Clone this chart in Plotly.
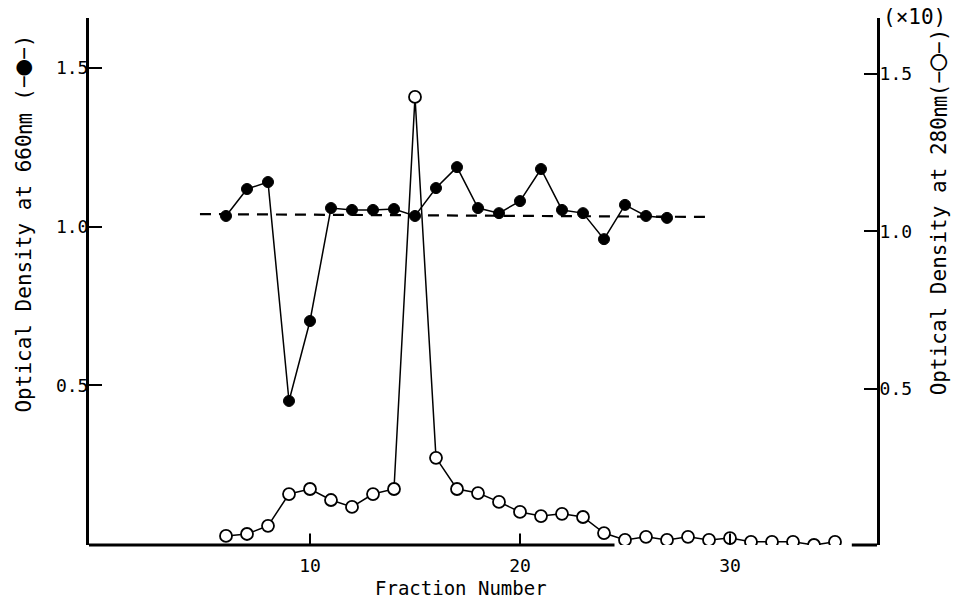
import plotly.graph_objects as go

# Optical density at 660 nm (filled circles, left axis)
frac_660 = list(range(6, 28))
od_660 = [1.034, 1.119, 1.141, 0.451, 0.703, 1.059, 1.053, 1.053, 1.056, 1.034,
          1.122, 1.188, 1.059, 1.043, 1.081, 1.182, 1.053, 1.043, 0.961, 1.069,
          1.034, 1.028]

# Optical density at 280 nm (open circles, right axis, x10)
frac_280 = list(range(6, 36))
od_280 = [0.032, 0.038, 0.064, 0.165, 0.181, 0.146, 0.124, 0.165, 0.181, 1.427,
          0.280, 0.181, 0.168, 0.140, 0.108, 0.095, 0.102, 0.092, 0.041, 0.019,
          0.029, 0.019, 0.029, 0.019, 0.025, 0.013, 0.013, 0.013, 0.003, 0.013]

# Dashed reference level
ref_x = [4.76, 28.95]
ref_y = [1.040, 1.031]

x_ticks = [10, 20, 30]
y_ticks = [0.5, 1.0, 1.5]
y_ticklabels = ["0.5", "1.0", "1.5"]

FONT = "DejaVu Sans Mono, Liberation Mono, Noto Sans CJK JP, monospace"

fig = go.Figure()

fig.add_trace(go.Scatter(
    x=ref_x, y=ref_y, mode="lines",
    line=dict(color="black", width=2.2, dash="11px,8px"),
    yaxis="y", hoverinfo="skip", showlegend=False))

fig.add_trace(go.Scatter(
    x=frac_280, y=od_280, mode="lines+markers", yaxis="y2",
    line=dict(color="black", width=1.5),
    marker=dict(symbol="circle", size=12, color="white",
                line=dict(color="black", width=1.8)),
    showlegend=False))

fig.add_trace(go.Scatter(
    x=frac_660, y=od_660, mode="lines+markers", yaxis="y",
    line=dict(color="black", width=1.5),
    marker=dict(symbol="circle", size=11, color="black",
                line=dict(color="black", width=1)),
    showlegend=False))

x_lo, x_hi = -0.524, 37.0

shapes = [
    dict(type="line", xref="x", yref="paper", x0=x_lo, x1=24.5, y0=0, y1=0,
         line=dict(color="black", width=3)),
    dict(type="line", xref="x", yref="paper", x0=35.8, x1=x_hi, y0=0, y1=0,
         line=dict(color="black", width=3)),
]
for t in x_ticks:
    shapes.append(dict(type="line", xref="x", yref="paper", x0=t, x1=t,
                       y0=0, y1=0.022, line=dict(color="black", width=2)))

fig.update_layout(
    width=957, height=607,
    margin=dict(l=89, r=80, t=18, b=62),
    paper_bgcolor="white", plot_bgcolor="white",
    font=dict(family=FONT, color="black", size=17),
    xaxis=dict(range=[x_lo, x_hi], tickvals=x_ticks,
               ticks="", showline=False, showgrid=False, zeroline=False,
               tickfont=dict(size=18), ticklabelstandoff=8),
    yaxis=dict(range=[-0.003, 1.658], tickvals=y_ticks, ticktext=y_ticklabels,
               ticks="inside", ticklen=13, tickwidth=2, tickcolor="black",
               showline=True, linewidth=3, linecolor="black",
               showgrid=False, zeroline=False, tickfont=dict(size=18),
               ticklabelstandoff=-6),
    yaxis2=dict(range=[0.003, 1.678], tickvals=y_ticks, ticktext=y_ticklabels,
                overlaying="y", side="right",
                ticks="inside", ticklen=13, tickwidth=2, tickcolor="black",
                showline=True, linewidth=3, linecolor="black",
                showgrid=False, zeroline=False, tickfont=dict(size=18),
                ticklabelstandoff=-4),
    shapes=shapes,
    annotations=[
        dict(text="Fraction Number", xref="paper", yref="paper",
             x=0.472, y=-0.082, showarrow=False, font=dict(size=19),
             xanchor="center", yanchor="middle"),
        dict(text="Optical Density at 660㎚ (−<span style='font-size:26px'>●</span>−)",
             xref="paper", yref="paper",
             x=-0.085, y=0.61, textangle=-90, showarrow=False,
             font=dict(size=21), xanchor="center", yanchor="middle"),
        dict(text="Optical Density at 280㎚(−<span style='font-size:28px'>○</span>−)",
             xref="paper", yref="paper",
             x=1.076, y=0.633, textangle=-90, showarrow=False,
             font=dict(size=21), xanchor="center", yanchor="middle"),
        dict(text="(×10)", xref="paper", yref="paper",
             x=(881 - 89) / 788, y=(545 - 17) / 527, showarrow=False,
             font=dict(size=21), xanchor="left", yanchor="middle"),
    ],
)

fig.write_html("out.html")
